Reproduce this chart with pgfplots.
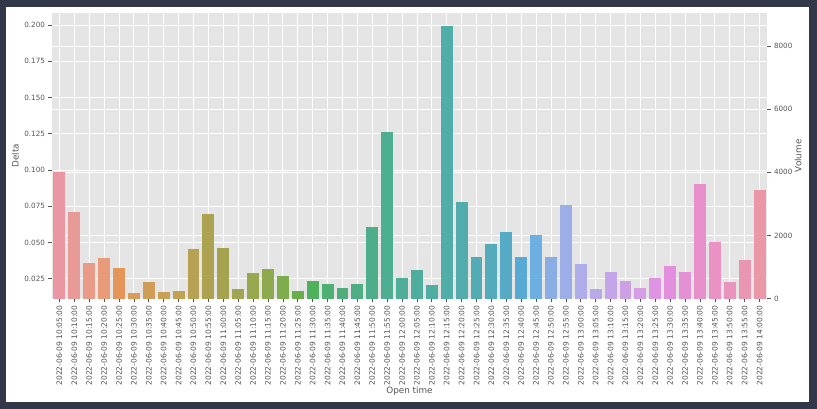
\documentclass[border=0pt]{standalone}
\usepackage{fontspec}
\setmainfont{DejaVu Sans}
\usepackage{pgfplots}
\pgfplotsset{compat=1.18}
\definecolor{frame}{RGB}{50,56,71}
\definecolor{panel}{HTML}{E5E5E5}
\definecolor{txt}{HTML}{555555}
\definecolor{c0}{HTML}{EA96A3}
\definecolor{c1}{HTML}{EA9A96}
\definecolor{c2}{HTML}{E99B87}
\definecolor{c3}{HTML}{E99B79}
\definecolor{c4}{HTML}{E5955A}
\definecolor{c5}{HTML}{DB9A56}
\definecolor{c6}{HTML}{CF9D55}
\definecolor{c7}{HTML}{C8A055}
\definecolor{c8}{HTML}{C2A252}
\definecolor{c9}{HTML}{B7A152}
\definecolor{c10}{HTML}{ADA250}
\definecolor{c11}{HTML}{A6A350}
\definecolor{c12}{HTML}{9FA550}
\definecolor{c13}{HTML}{97A84E}
\definecolor{c14}{HTML}{8DAA4E}
\definecolor{c15}{HTML}{7EAD4E}
\definecolor{c16}{HTML}{6AAE4B}
\definecolor{c17}{HTML}{4EB05A}
\definecolor{c18}{HTML}{4DAF72}
\definecolor{c19}{HTML}{4DAE7C}
\definecolor{c20}{HTML}{4DAE85}
\definecolor{c21}{HTML}{4EAE8C}
\definecolor{c22}{HTML}{4EAE92}
\definecolor{c23}{HTML}{4FAE98}
\definecolor{c24}{HTML}{4FAD9D}
\definecolor{c25}{HTML}{50ADA2}
\definecolor{c26}{HTML}{51ADA8}
\definecolor{c27}{HTML}{52ACAD}
\definecolor{c28}{HTML}{53ACB3}
\definecolor{c29}{HTML}{54ABBB}
\definecolor{c30}{HTML}{55AAC6}
\definecolor{c31}{HTML}{58A9D4}
\definecolor{c32}{HTML}{6CAFE0}
\definecolor{c33}{HTML}{8AAEE4}
\definecolor{c34}{HTML}{9DADE8}
\definecolor{c35}{HTML}{AEADEA}
\definecolor{c36}{HTML}{B9A9E8}
\definecolor{c37}{HTML}{C4A5E8}
\definecolor{c38}{HTML}{CDA0E6}
\definecolor{c39}{HTML}{D69DE5}
\definecolor{c40}{HTML}{DF93E3}
\definecolor{c41}{HTML}{E38FDD}
\definecolor{c42}{HTML}{E690D4}
\definecolor{c43}{HTML}{E890CB}
\definecolor{c44}{HTML}{E992C3}
\definecolor{c45}{HTML}{E994BA}
\definecolor{c46}{HTML}{EA95B1}
\definecolor{c47}{HTML}{EA97A7}
\newcommand{\B}[2]{\addplot[ybar, bar width=0.8, bar shift=0pt, draw=none, fill=c#1] coordinates {(#1,#2)};}
\begin{document}
\begin{tikzpicture}[x=1pt,y=1pt]
\fill[frame] (0,0) rectangle (817,409);
\fill[white] (6,7) rectangle (809,402);
\pgfplotsset{
  common/.style={
    at={(52pt,110.3pt)}, anchor=south west, scale only axis,
    width=715pt, height=285.7pt,
    xmin=-0.5, xmax=47.5,
    axis line style={draw=none},
    tick align=outside, major tick length=3.5pt,
    every tick/.style={txt, line width=0.7pt},
    grid style={white, line width=0.9pt},
    ticklabel style={font=\fontsize{7.2}{8}\selectfont, text=txt},
    /pgf/number format/assume math mode=true,
    /pgf/number format/1000 sep={},
  }
}
% Volume axis (right)
\begin{axis}[common,
  axis background/.style={fill=panel},
  ymin=0, ymax=9045,
  xtick=\empty,
  ytick={0,2000,4000,6000,8000},
  ytick pos=right, yticklabel pos=right,
  ymajorgrids,
  ylabel={Volume},
  every axis y label/.style={at={(axis description cs:1.0434,0.5)}, rotate=90, anchor=center, font=\fontsize{8.8}{10}\selectfont, text=txt},
]
\end{axis}
% Delta axis (left)
\begin{axis}[common,
  ymin=0.0112, ymax=0.20828,
  scaled y ticks=false,
  ytick={0.025,0.05,0.075,0.1,0.125,0.15,0.175,0.2},
  yticklabel style={/pgf/number format/.cd, fixed, fixed zerofill, precision=3},
  ytick pos=left, xtick pos=left,
  xtick={0,...,47},
  xticklabels={2022-06-09 10:05:00,2022-06-09 10:10:00,2022-06-09 10:15:00,2022-06-09 10:20:00,2022-06-09 10:25:00,2022-06-09 10:30:00,2022-06-09 10:35:00,2022-06-09 10:40:00,2022-06-09 10:45:00,2022-06-09 10:50:00,2022-06-09 10:55:00,2022-06-09 11:00:00,2022-06-09 11:05:00,2022-06-09 11:10:00,2022-06-09 11:15:00,2022-06-09 11:20:00,2022-06-09 11:25:00,2022-06-09 11:30:00,2022-06-09 11:35:00,2022-06-09 11:40:00,2022-06-09 11:45:00,2022-06-09 11:50:00,2022-06-09 11:55:00,2022-06-09 12:00:00,2022-06-09 12:05:00,2022-06-09 12:10:00,2022-06-09 12:15:00,2022-06-09 12:20:00,2022-06-09 12:25:00,2022-06-09 12:30:00,2022-06-09 12:35:00,2022-06-09 12:40:00,2022-06-09 12:45:00,2022-06-09 12:50:00,2022-06-09 12:55:00,2022-06-09 13:00:00,2022-06-09 13:05:00,2022-06-09 13:10:00,2022-06-09 13:15:00,2022-06-09 13:20:00,2022-06-09 13:25:00,2022-06-09 13:30:00,2022-06-09 13:35:00,2022-06-09 13:40:00,2022-06-09 13:45:00,2022-06-09 13:50:00,2022-06-09 13:55:00,2022-06-09 14:00:00},
  xticklabel style={rotate=90, anchor=east, font=\fontsize{7.5}{9}\selectfont},
  xmajorgrids, ymajorgrids,
  ylabel={Delta}, xlabel={Open time},
  every axis y label/.style={at={(axis description cs:-0.0511,0.5)}, rotate=90, anchor=center, font=\fontsize{8.8}{10}\selectfont, text=txt},
  every axis x label/.style={at={(axis description cs:0.5,-0.3245)}, anchor=center, font=\fontsize{8.8}{10}\selectfont, text=txt},
]
\B{0}{0.0988}
\B{1}{0.0710}
\B{2}{0.0358}
\B{3}{0.0393}
\B{4}{0.0324}
\B{5}{0.0151}
\B{6}{0.0229}
\B{7}{0.0158}
\B{8}{0.0165}
\B{9}{0.0455}
\B{10}{0.0694}
\B{11}{0.0464}
\B{12}{0.0179}
\B{13}{0.0287}
\B{14}{0.0315}
\B{15}{0.0269}
\B{16}{0.0165}
\B{17}{0.0232}
\B{18}{0.0211}
\B{19}{0.0186}
\B{20}{0.0211}
\B{21}{0.0605}
\B{22}{0.1260}
\B{23}{0.0257}
\B{24}{0.0310}
\B{25}{0.0207}
\B{26}{0.1995}
\B{27}{0.0781}
\B{28}{0.0402}
\B{29}{0.0491}
\B{30}{0.0570}
\B{31}{0.0400}
\B{32}{0.0548}
\B{33}{0.0402}
\B{34}{0.0756}
\B{35}{0.0351}
\B{36}{0.0181}
\B{37}{0.0294}
\B{38}{0.0232}
\B{39}{0.0186}
\B{40}{0.0257}
\B{41}{0.0336}
\B{42}{0.0294}
\B{43}{0.0901}
\B{44}{0.0501}
\B{45}{0.0227}
\B{46}{0.0381}
\B{47}{0.0860}
\end{axis}
\end{tikzpicture}
\end{document}
